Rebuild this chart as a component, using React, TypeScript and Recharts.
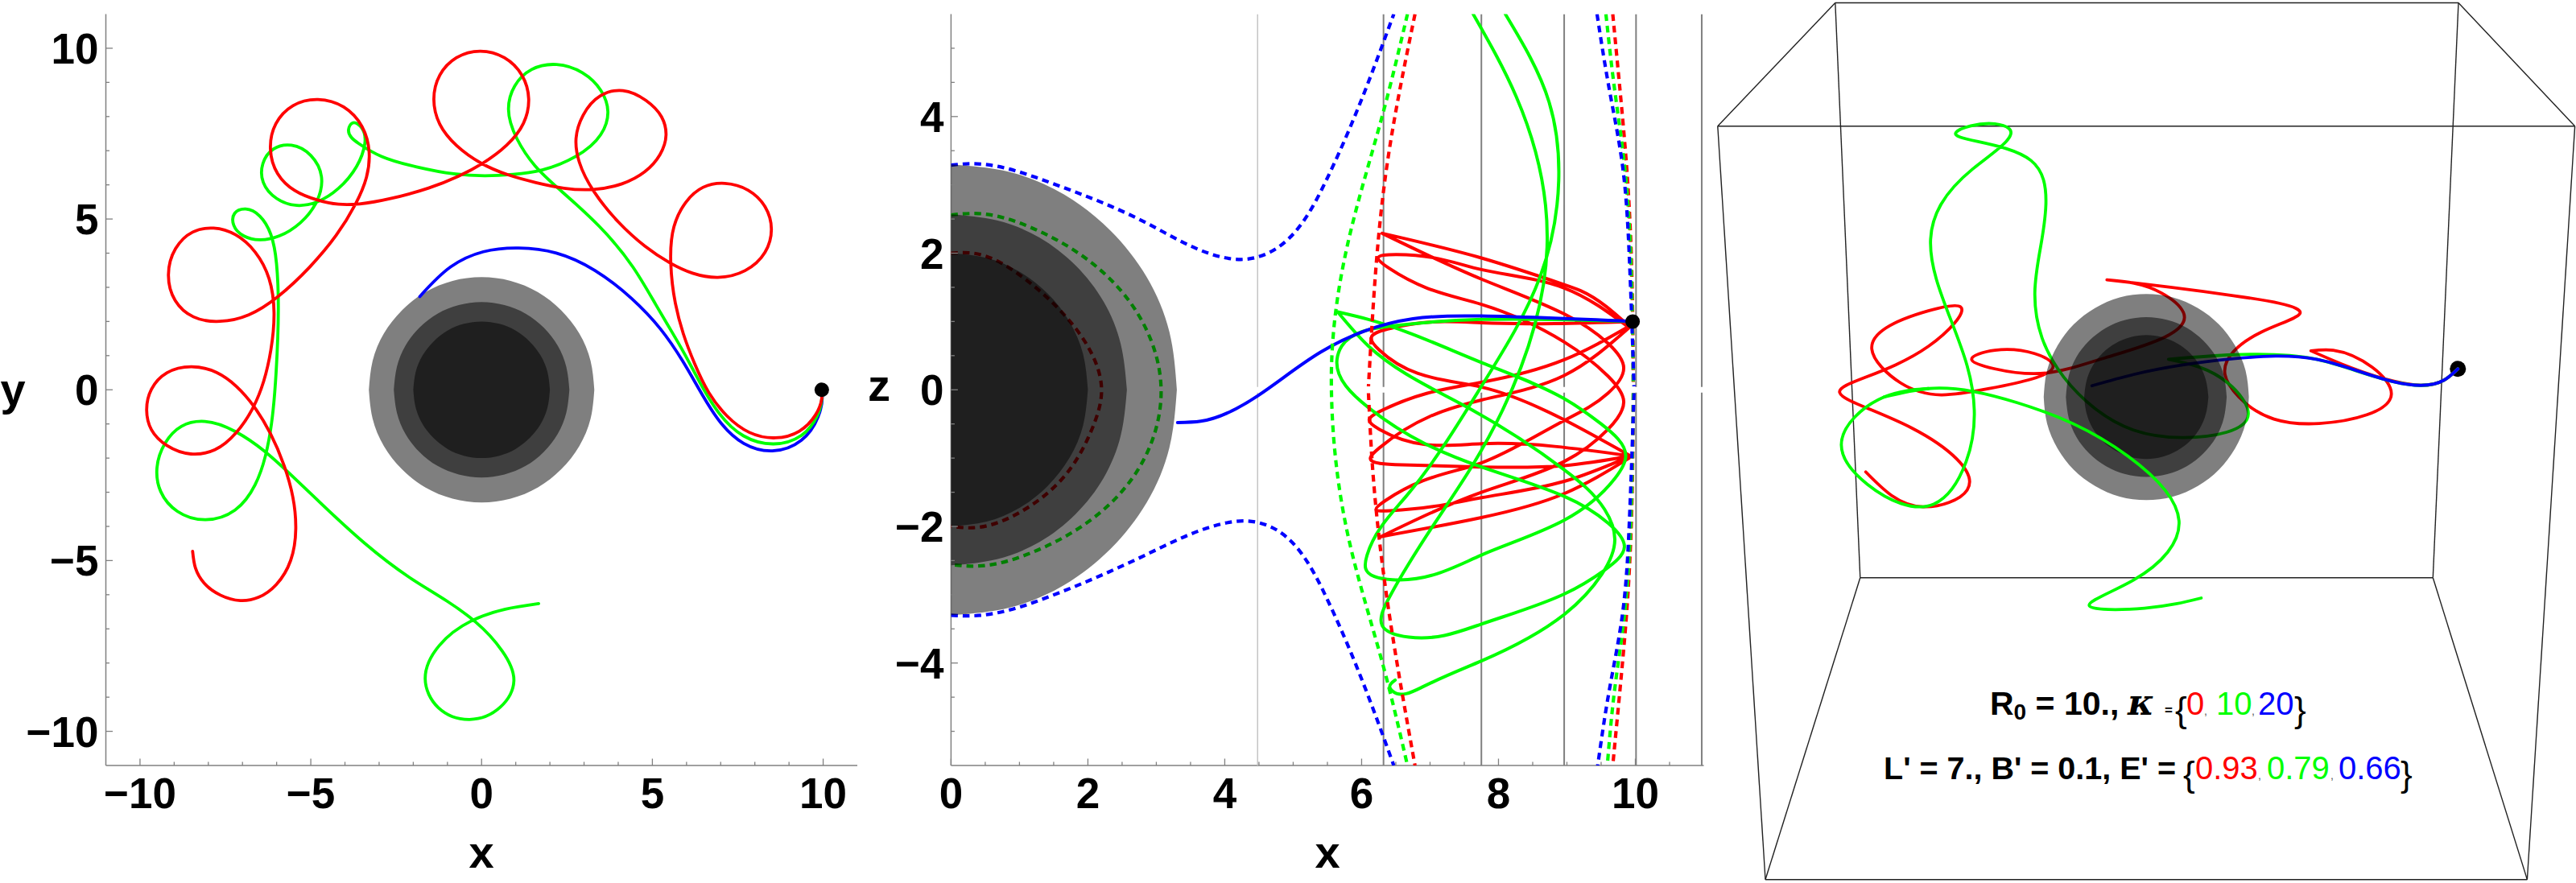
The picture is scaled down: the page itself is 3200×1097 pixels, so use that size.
import React from "react";
import { ComposedChart, Line, Area, XAxis, YAxis } from "recharts";

type Pt = [number, number | null];
const G: Pt = [0, null];
const RED = "#ff0000";
const GREEN = "#00ff00";
const BLUE = "#0000ff";

// ---------- panel 1 (x, y) ----------
const xyRed: Pt[] = [[9.96,0],[9.96,-0.21],[9.78,-0.76],[9.31,-1.20],[8.60,-1.42],[7.82,-1.24],[7.19,-0.76],[6.64,-0.06],[6.25,0.73],[5.89,1.75],[5.70,2.38],[5.53,3.79],[5.62,4.74],[6.01,5.52],[6.48,5.91],[7.11,6.05],[7.82,5.84],[8.29,5.36],[8.49,4.70],[8.29,4.03],[7.74,3.48],[6.88,3.28],[6.17,3.44],[5.53,3.71],[4.76,4.22],[4.05,4.89],[3.26,5.80],[2.87,6.70],[2.78,7.33],[2.95,8.03],[3.50,8.62],[4.11,8.77],[4.83,8.47],[5.27,7.96],[5.39,7.49],[5.23,6.86],[4.75,6.39],[4.13,6.03],[3.26,5.86],[2.40,5.91],[1.61,6.07],[0.75,6.31],[0,6.62],[-0.74,7.17],[-1.22,7.76],[-1.40,8.51],[-1.22,9.21],[-0.74,9.72],[-0.04,9.92],[0.67,9.72],[1.18,9.21],[1.38,8.51],[1.22,7.80],[0.75,7.17],[0,6.62],[-0.67,6.27],[-1.53,5.91],[-2.63,5.60],[-3.65,5.44],[-4.12,5.44],[-4.83,5.56],[-5.46,5.84],[-5.97,6.31],[-6.19,7.05],[-6.01,7.80],[-5.54,8.31],[-4.78,8.51],[-4.04,8.27],[-3.49,7.72],[-3.30,6.93],[-3.38,6.23],[-3.69,5.44],[-4.28,4.50],[-4.99,3.64],[-6.01,2.69],[-6.79,2.22],[-7.66,2.0],[-8.44,2.14],[-8.96,2.61],[-9.18,3.36],[-8.96,4.15],[-8.44,4.62],[-7.86,4.72],[-7.19,4.54],[-6.64,4.03],[-6.21,3.24],[-6.08,2.30],[-6.17,1.12],[-6.40,0.26],[-6.67,-0.49],[-7.19,-1.27],[-7.82,-1.75],[-8.48,-1.89],[-9.23,-1.63],[-9.66,-1.16],[-9.80,-0.61],[-9.66,0.02],[-9.23,0.49],[-8.48,0.69],[-7.74,0.49],[-7.19,0.10],[-6.67,-0.49],[-6.20,-1.24],[-5.77,-2.26],[-5.54,-3.12],[-5.44,-4.06],[-5.58,-5.0],[-6.01,-5.71],[-6.56,-6.07],[-7.03,-6.16],[-7.66,-6.03],[-8.13,-5.63],[-8.38,-5.24],[-8.46,-4.73]];
const xyGreen: Pt[] = [[9.96,0],[9.96,-0.21],[9.82,-0.76],[9.39,-1.35],[8.53,-1.59],[7.66,-1.35],[6.95,-0.69],[6.40,0.22],[5.93,1.08],[5.54,1.75],[5.15,2.38],[4.36,3.71],[3.58,4.66],[2.16,5.99],[1.69,6.42],[0.98,7.41],[0.80,8.19],[0.98,8.90],[1.45,9.37],[2.20,9.53],[2.95,9.29],[3.50,8.74],[3.68,8.15],[3.50,7.48],[2.79,6.82],[1.69,6.42],[0.98,6.33],[0.04,6.27],[-0.75,6.31],[-1.92,6.54],[-2.94,6.82],[-3.57,7.21],[-3.93,7.60],[-3.77,7.84],[-3.49,7.64],[-3.42,7.21],[-3.65,6.54],[-4.20,5.87],[-4.83,5.52],[-5.38,5.39],[-6.01,5.60],[-6.40,6.07],[-6.40,6.62],[-6.09,7.05],[-5.58,7.17],[-4.99,6.86],[-4.67,6.23],[-4.83,5.52],[-5.30,4.89],[-5.93,4.50],[-6.50,4.40],[-6.95,4.50],[-7.27,4.81],[-7.23,5.17],[-6.91,5.31],[-6.48,5.05],[-6.17,4.58],[-6.01,3.64],[-5.95,2.46],[-6.01,0.49],[-6.17,-1.08],[-6.32,-1.82],[-6.64,-2.81],[-7.19,-3.51],[-8.09,-3.83],[-8.92,-3.55],[-9.39,-2.96],[-9.50,-2.30],[-9.27,-1.55],[-8.76,-1.08],[-8.13,-0.92],[-7.19,-1.20],[-6.32,-1.86],[-5.70,-2.37],[-4.67,-3.36],[-3.42,-4.50],[-2.16,-5.48],[-0.90,-6.26],[-0.31,-6.69],[0.67,-7.72],[0.93,-8.47],[0.58,-9.29],[-0.36,-9.69],[-1.28,-9.29],[-1.66,-8.47],[-1.28,-7.48],[-0.23,-6.74],[0.67,-6.44],[1.67,-6.26]];
const xyBlue: Pt[] = [[9.96,0],[9.96,-0.21],[9.86,-0.76],[9.39,-1.51],[8.49,-1.80],[7.66,-1.55],[7.03,-1.0],[6.48,-0.17],[5.85,0.89],[5.27,1.75],[4.36,2.69],[3.34,3.48],[2.16,4.03],[1.10,4.12],[0.04,4.03],[-0.90,3.64],[-1.81,2.73]];
const startXY: Pt[] = [[9.96,0],[9.96,0]];

// disc outlines: x positions and half heights
const outerX = [-3.30,-3.19,-2.86,-2.33,-1.65,-0.85,0,0.85,1.65,2.33,2.86,3.19,3.30];
const outerH = [0,0.85,1.65,2.33,2.86,3.19,3.30,3.19,2.86,2.33,1.65,0.85,0];
const midX = [-2.57,-2.48,-2.23,-1.82,-1.29,-0.67,0,0.67,1.29,1.82,2.23,2.48,2.57];
const midH = [0,0.67,1.29,1.82,2.23,2.48,2.57,2.48,2.23,1.82,1.29,0.67,0];
const innerX = [-2,-1.93,-1.73,-1.41,-1,-0.52,0,0.52,1,1.41,1.73,1.93,2];
const innerH = [0,0.52,1,1.41,1.73,1.93,2,1.93,1.73,1.41,1,0.52,0];

// ---------- panel 2 (x, z) ----------
const xzVerticalsDark = [6.32, 7.75, 8.96, 10.01, 10.97];
const xzVerticalLight = [4.48];
const xzBlueSolid: Pt[] = [[9.96,1],[7.74,1.08],[6.75,1.04],[5.40,0.55],[4.48,-0.09],[3.65,-0.46],[3.31,-0.48]];
const xzGreenSolid: Pt[] = [[9.96,1],[7.75,1.03],[6.41,0.93],[5.71,0.64],[5.64,0.44],[6.10,-0.26],[7.75,-1.13],[8.96,-1.56],[9.6,-1.95],[9.84,-2.3],[9.55,-2.64],[8.96,-2.99],[7.75,-3.43],[6.69,-3.62],[6.30,-3.45],[6.42,-3.01],[7.63,-1.09],[8.53,0.95],[8.71,2.09],[8.26,4.29],[7.63,5.5],G,
[8.10,5.5],[8.74,4.21],[8.88,3.06],[8.61,1.66],[7.75,0.05],[6.65,-1.56],[6.08,-2.42],[6.06,-2.62],[6.45,-2.78],[7.75,-2.42],[8.96,-1.91],[9.7,-1.3],[9.86,-0.97],[9.5,-0.5],[8.96,-0.13],[7.75,0.40],[6.10,1.03],[5.65,1.14],G,
[5.65,1.14],[6.10,0.64],[7.55,-0.26],[8.96,-1.17],[9.55,-1.75],[9.70,-2.19],[9.51,-2.70],[8.96,-3.29],[7.75,-3.97],[6.89,-4.35],[6.45,-4.41],[6.41,-4.35],[6.49,-4.25]];
const xzRedSolid: Pt[] = [[9.96,1],[7.75,0.98],[6.38,0.89],[6.14,0.76],[6.26,0.58],[7.75,0.04],[8.96,-0.44],[9.93,-0.97],G,
[9.93,-0.97],[7.75,-0.79],[6.26,-0.58],[6.11,-0.44],[6.26,-0.32],[7.75,0.11],[8.96,0.44],[9.91,0.93],G,
[9.91,0.93],[9.2,1.45],[8.96,1.54],[7.75,1.93],[6.30,2.29],G,
[6.30,2.29],[7.75,1.62],[8.96,1.11],[9.6,0.68],[9.83,0.32],[9.6,-0.05],[8.96,-0.45],[7.75,-1.07],[6.35,-1.62],[6.21,-1.75],[6.42,-1.77],[7.75,-1.58],[8.96,-1.34],[9.93,-0.97],G,
[9.93,-0.97],[8.96,-1.11],[7.75,-1.13],[6.6,-1.1],[6.13,-0.99],[6.26,-0.85],[7.75,-0.15],[8.96,0.21],[9.91,0.91],G,
[9.91,0.91],[8.96,1.49],[7.75,1.76],[6.5,1.98],[6.24,1.93],[6.4,1.78],[7.75,1.25],[8.96,0.70],[9.6,0.2],[9.83,-0.17],[9.6,-0.58],[8.96,-1.05],[7.75,-1.5],[6.28,-2.15],G,
[6.28,-2.15],[7.75,-1.87],[8.96,-1.52],[9.91,-1.0]];
const xzBlueDash: Pt[] = [[0,3.29],[0.28,3.31],[1.43,3.04],[2.86,2.44],[3.97,1.94],[4.29,1.91],[4.61,1.99],[5.48,3.06],[6.47,5.5],G,
[9.44,5.5],[9.61,4.45],[9.81,3.30],[9.91,1.99],[9.98,0.05],G,[9.98,-0.05],[9.91,-1.99],[9.81,-3.30],[9.61,-4.45],[9.45,-5.5],G,
[0,-3.30],[0.28,-3.31],[1.43,-3.03],[2.86,-2.41],[3.97,-1.96],[4.29,-1.92],[4.61,-1.98],[5.48,-3.03],[6.47,-5.5]];
const xzGreenDash: Pt[] = [[6.67,5.5],[6.31,4.04],[5.80,2.15],[5.56,0.34],[5.56,-0.07],[5.80,-2.13],[6.31,-4.02],[6.67,-5.5],G,
[9.57,5.5],[9.69,4.45],[9.84,3.30],[9.93,1.99],[9.97,0.05],G,[9.97,-0.05],[9.93,-1.99],[9.84,-3.30],[9.69,-4.45],[9.59,-5.5],G,
[0,2.56],[0.40,2.58],[1.11,2.40],[2.70,1.16],[3.07,0],[2.70,-1.22],[1.11,-2.41],[0.40,-2.58],[0,-2.56]];
const xzRedDash: Pt[] = [[6.78,5.5],[6.35,3.14],[6.16,1.08],[6.10,0.05],G,[6.10,-0.05],[6.16,-1.14],[6.39,-3.19],[6.78,-5.5],G,
[9.67,5.5],[9.77,4.45],[9.87,3.30],[9.94,1.99],[9.97,0.05],G,[9.97,-0.05],[9.94,-1.99],[9.87,-3.30],[9.77,-4.45],[9.67,-5.5],G,
[0,2.0],[0.32,2.0],[1.03,1.66],[1.67,1.08],[2.07,0.5],[2.20,0],[2.07,-0.55],[1.67,-1.25],[1.03,-1.78],[0.32,-2.02],[0,-2.0]];
const startXZ: Pt[] = [[9.96,1],[9.96,1]];

// ---------- panel 3 (projected picture units) ----------
const boxEdges: Pt[][] = [
  [[232,5],[1356,5]],[[232,5],[20,224]],[[1356,5],[1566,224]],[[20,224],[1566,224]],
  [[232,5],[277,1026]],[[1356,5],[1310,1026]],[[277,1026],[1310,1026]],
  [[20,224],[106,1562]],[[1566,224],[1480,1562]],[[277,1026],[106,1562]],[[1310,1026],[1480,1562]],[[106,1562],[1480,1562]],
];
const viewRed: Pt[] = [[1355,655],[1330,675],[1240,677],[1090,623],G,[1090,623],[1130,622],[1235,700],[1105,752],[960,705],[935,665],[1000,590],[1070,557],[950,525],[722,497],G,[722,497],[820,520],[860,555],[720,635],[520,655],[478,638],[520,622],[625,650],[510,690],[350,680],[298,620],[400,552],[458,545],[400,615],[240,697],[370,760],[470,870],[390,900],[287,838]];
const viewGreenBack: Pt[] = [[1355,655],[1330,675],[1240,678],[1100,638],[950,630],[833,638],G,[833,638],[940,680],[977,735],[860,777],[700,725],[605,600],[592,520],[612,360],[585,285],[450,235],[520,220],[545,228],[480,300],[404,425],[470,650],[468,820],[410,895],[290,860],[243,790],[320,705],[400,690]];
const viewGreenFront: Pt[] = [[320,705],[400,690],[560,715],[760,810],[852,925],[770,1030],[690,1075],[790,1080],[892,1062]];
const viewBlue: Pt[] = [[1355,655],[1330,675],[1240,678],[1100,638],[950,637],[770,665],[695,685]];
const startView: Pt[] = [[1355,655],[1355,655]];
const sphereCentreY = 705;
const sphereOuterX = [608,614,633,662,700.5,745,793,841,886,924,953,972,978];
const sphereOuterH = [0,47,91.5,129,158,177,183,177,158,129,91.5,47,0];
const sphereMidX = [648,653,667,690,720.5,755,793,831,866,896,919,933,938];
const sphereMidH = [0,37,71,100,123,137,142,137,123,100,71,37,0];
const sphereInnerX = [681,685,696,714,737,764,793,822,849,872,890,901,905];
const sphereInnerH = [0,28,55,78,95,106,110,106,95,78,55,28,0];

// ---------- ticks and labels ----------
const xyTicks = [-10,-9,-8,-7,-6,-5,-4,-3,-2,-1,0,1,2,3,4,5,6,7,8,9,10];
const xyMajor = [-10,-5,0,5,10];
const xTicks2 = [0,0.5,1,1.5,2,2.5,3,3.5,4,4.5,5,5.5,6,6.5,7,7.5,8,8.5,9,9.5,10,10.5];
const xMajor2 = [0,2,4,6,8,10];
const zTicks2 = [-5,-4.5,-4,-3.5,-3,-2.5,-2,-1.5,-1,-0.5,0,0.5,1,1.5,2,2.5,3,3.5,4,4.5,5];
const zMajor2 = [-4,-2,0,2,4];
const kappaValues = ["0", "10", "20"];
const energyValues = ["0.93", "0.79", "0.66"];

const rows = (a: Pt[]) => a.map(([x, y]) => ({ x, y }));
const band = (xs: number[], hs: number[], c = 0) => xs.map((x, i) => ({ x, r: [c - hs[i], c + hs[i]] }));
const half = (xs: number[], hs: number[]) => band(xs.slice(6), hs.slice(6));

// Removes reading noise from densely read curves without shrinking them (one Taubin pass).
const taubin = (v: number[]) => {
  const step = (a: number[], k: number) => a.map((p, i) => (i === 0 || i === a.length - 1 ? p : p + k * ((a[i - 1] + a[i + 1]) / 2 - p)));
  return step(step(v, 0.5), -0.53);
};

// Interpolating C2 cubic spline parameterised by chord length, for the trajectory curves.
const makeSpline = (smooth: boolean) => (context: any) => {
  let px: number[] = [];
  let py: number[] = [];
  const slopes = (v: number[], h: number[]) => {
    const n = v.length;
    const a = new Array(n).fill(0), b = new Array(n).fill(0), c = new Array(n).fill(0), r = new Array(n).fill(0);
    const d = h.map((hi, i) => (v[i + 1] - v[i]) / hi);
    b[0] = 2; c[0] = 1; r[0] = 3 * d[0];
    for (let i = 1; i < n - 1; i++) {
      a[i] = h[i]; b[i] = 2 * (h[i - 1] + h[i]); c[i] = h[i - 1];
      r[i] = 3 * (h[i] * d[i - 1] + h[i - 1] * d[i]);
    }
    a[n - 1] = 1; b[n - 1] = 2; r[n - 1] = 3 * d[n - 2];
    for (let i = 1; i < n; i++) {
      const m = a[i] / b[i - 1];
      b[i] -= m * c[i - 1]; r[i] -= m * r[i - 1];
    }
    const out = new Array(n).fill(0);
    out[n - 1] = r[n - 1] / b[n - 1];
    for (let i = n - 2; i >= 0; i--) out[i] = (r[i] - c[i] * out[i + 1]) / b[i];
    return out;
  };
  return {
    areaStart() {},
    areaEnd() {},
    lineStart() { px = []; py = []; },
    point(x: number, y: number) { px.push(+x); py.push(+y); },
    lineEnd() {
      const n = px.length;
      if (!n) return;
      if (smooth && n > 4) { px = taubin(px); py = taubin(py); }
      context.moveTo(px[0], py[0]);
      if (n === 1) { context.lineTo(px[0], py[0]); return; }
      const h: number[] = [];
      for (let i = 0; i < n - 1; i++) h.push(Math.max(Math.hypot(px[i + 1] - px[i], py[i + 1] - py[i]), 1e-3));
      const mx = slopes(px, h), my = slopes(py, h);
      for (let i = 0; i < n - 1; i++) {
        context.bezierCurveTo(px[i] + mx[i] * h[i] / 3, py[i] + my[i] * h[i] / 3, px[i + 1] - mx[i + 1] * h[i] / 3, py[i + 1] - my[i + 1] * h[i] / 3, px[i + 1], py[i + 1]);
      }
    },
  };
};
const chordSpline = makeSpline(false);
const smoothSpline = makeSpline(true);

const AXIS = "#808080";
const FONT = "'Liberation Sans', Arial, sans-serif";
const axisLine = { stroke: AXIS, strokeWidth: 1.5 };

const makeTick = (side: string, majors: number[], labelled: boolean) => (p: any) => {
  const v = p.payload.value;
  const major = majors.includes(v);
  const len = major ? 8.5 : 4.5;
  const x = p.x, y = p.y;
  const line = side === "bottom" ? [x, y, x, y - len] : side === "top" ? [x, y, x, y + len] : side === "left" ? [x, y, x + len, y] : [x, y, x - len, y];
  const label = String(v).replace("-", "\u2212");
  return (
    <g>
      <line x1={line[0]} y1={line[1]} x2={line[2]} y2={line[3]} stroke={AXIS} strokeWidth={1.3} />
      {labelled && major && side === "bottom" && (
        <text x={x} y={y + 53} textAnchor="middle" fontFamily={FONT} fontWeight="bold" fontSize={53} fill="#000">{label}</text>
      )}
      {labelled && major && side === "left" && (
        <text x={x - 9} y={y + 19} textAnchor="end" fontFamily={FONT} fontWeight="bold" fontSize={53} fill="#000">{label}</text>
      )}
    </g>
  );
};

const frame = (xD: number[], yD: number[], xT: number[], yT: number[], xM: number[], yM: number[], leftW: number, bottomH: number) => [
  <XAxis key="xb" dataKey="x" type="number" domain={xD} allowDataOverflow ticks={xT} interval={0} height={bottomH} tickSize={0} tickMargin={0} tickLine={false} axisLine={axisLine} tick={makeTick("bottom", xM, true)} />,
  <XAxis key="xt" xAxisId="top" orientation="top" dataKey="x" type="number" domain={xD} allowDataOverflow ticks={xT} interval={0} height={0} tickSize={0} tickMargin={0} tickLine={false} axisLine={axisLine} tick={makeTick("top", xM, false)} />,
  <YAxis key="yl" type="number" domain={yD} allowDataOverflow ticks={yT} interval={0} width={leftW} tickSize={0} tickMargin={0} tickLine={false} axisLine={axisLine} tick={makeTick("left", yM, true)} />,
  <YAxis key="yr" yAxisId="right" orientation="right" type="number" domain={yD} allowDataOverflow ticks={yT} interval={0} width={0} tickSize={0} tickMargin={0} tickLine={false} axisLine={axisLine} tick={makeTick("right", yM, false)} />,
];

let zCounter = 1000;
const curve = (key: string, pts: Pt[], color: string, extra: any = {}) => (
  <Line key={key} data={rows(pts)} dataKey="y" type={chordSpline as any} stroke={color} strokeWidth={4} strokeLinecap="round" strokeLinejoin="round" dot={false} activeDot={false} isAnimationActive={false} legendType="none" connectNulls={false} zIndex={zCounter++} {...extra} />
);
const disc = (key: string, data: any[]) => (
  <Area key={key} data={data} dataKey="r" type="natural" stroke="none" fill="#000" fillOpacity={0.5} dot={false} activeDot={false} isAnimationActive={false} legendType="none" zIndex={zCounter++} />
);
const startDot = (key: string, pts: Pt[], d: number) => curve(key, pts, "#000", { strokeWidth: d, type: "linear" });
const dashed = { strokeDasharray: "8.5 6", strokeLinecap: "butt", strokeWidth: 4.2 };
const vertical = (x: number): Pt[] => [[x, 5.5], [x, 0.04], G, [x, -0.04], [x, -5.5]];

const T = (p: any) => <text fontFamily={FONT} {...p} />;

export default function App() {
  return (
    <div style={{ position: "absolute", left: 0, top: 0, width: 3200, height: 1097, background: "#fff", overflow: "hidden" }}>
      <div style={{ position: "absolute", left: 0, top: 0 }}>
        <ComposedChart width={1080} height={1097} margin={{ top: 17.5, right: 15, bottom: 0, left: 0 }}>
          {frame([-11, 11], [-11, 11], xyTicks, xyTicks, xyMajor, xyMajor, 131.5, 146)}
          {disc("d1", band(outerX, outerH))}
          {disc("d2", band(midX, midH))}
          {disc("d3", band(innerX, innerH))}
          {curve("blue", xyBlue, BLUE, { type: smoothSpline, strokeWidth: 3.8 })}
          {curve("green", xyGreen, GREEN, { type: smoothSpline, strokeWidth: 3.8 })}
          {curve("red", xyRed, RED, { type: smoothSpline, strokeWidth: 3.8 })}
          {startDot("dot", startXY, 18)}
        </ComposedChart>
      </div>

      <div style={{ position: "absolute", left: 1080, top: 0 }}>
        <ComposedChart width={1060} height={1097} margin={{ top: 17.5, right: 23.5, bottom: 0, left: 0 }}>
          {frame([0, 11], [-5.5, 5.5], xTicks2, zTicks2, xMajor2, zMajor2, 101.4, 146)}
          {xzVerticalLight.map((x, i) => curve("vl" + i, vertical(x), "#c4c4c4", { strokeWidth: 1.5, type: "linear", strokeLinecap: "butt" }))}
          {xzVerticalsDark.map((x, i) => curve("vd" + i, vertical(x), "#808080", { strokeWidth: 2, type: "linear", strokeLinecap: "butt" }))}
          {curve("rs", xzRedSolid, RED)}
          {curve("gs", xzGreenSolid, GREEN)}
          {curve("bs", xzBlueSolid, BLUE)}
          {curve("rd", xzRedDash, RED, dashed)}
          {curve("gd", xzGreenDash, GREEN, dashed)}
          {curve("bd", xzBlueDash, BLUE, dashed)}
          {disc("d1", half(outerX, outerH))}
          {disc("d2", half(midX, midH))}
          {disc("d3", half(innerX, innerH))}
          {startDot("dot", startXZ, 18)}
        </ComposedChart>
      </div>

      <div style={{ position: "absolute", left: 2120, top: 0 }}>
        <ComposedChart width={1080} height={1097} margin={{ top: 0, right: 0, bottom: 0, left: 0 }}>
          <XAxis dataKey="x" type="number" domain={[0, 1568]} hide />
          <YAxis type="number" domain={[0, 1568]} reversed hide />
          {boxEdges.map((e, i) => curve("box" + i, e, "#222", { type: "linear", strokeWidth: 1.4, strokeLinecap: "butt" }))}
          {startDot("dot", startView, 20)}
          {curve("red", viewRed, RED, { strokeWidth: 3.8 })}
          {curve("gb", viewGreenBack, GREEN, { strokeWidth: 3.8 })}
          {curve("blue", viewBlue, BLUE, { strokeWidth: 3.8 })}
          {disc("s1", band(sphereOuterX, sphereOuterH, sphereCentreY))}
          {disc("s2", band(sphereMidX, sphereMidH, sphereCentreY))}
          {disc("s3", band(sphereInnerX, sphereInnerH, sphereCentreY))}
          {curve("gf", viewGreenFront, GREEN, { strokeWidth: 3.8 })}
        </ComposedChart>
      </div>

      <svg width={3200} height={1097} style={{ position: "absolute", left: 0, top: 0, pointerEvents: "none" }}>
        <T x={598} y={1078} textAnchor="middle" fontWeight="bold" fontSize={56}>x</T>
        <T x={16} y={503} textAnchor="middle" fontWeight="bold" fontSize={56}>y</T>
        <T x={1649} y={1078} textAnchor="middle" fontWeight="bold" fontSize={56}>x</T>
        <T x={1092} y={498} textAnchor="middle" fontWeight="bold" fontSize={56}>z</T>

        <T x={2472} y={888} fontWeight="bold" fontSize={41}>R<tspan fontSize={28} dy={6}>0</tspan><tspan dy={-6}> = 10.,</tspan></T>
        <text x={2643} y={888} fontFamily="'DejaVu Serif', serif" fontWeight="bold" fontStyle="italic" fontSize={44}>κ</text>
        <T x={2689} y={888} fontWeight="bold" fontSize={17}>=</T>
        <T x={2702} y={897} fontSize={44}>{"{"}</T>
        <T x={2716} y={888} fontSize={40} fill={RED}>{kappaValues[0]}</T>
        <T x={2738} y={888} fontSize={14} fill="#555">,</T>
        <T x={2753} y={888} fontSize={40} fill={GREEN}>{kappaValues[1]}</T>
        <T x={2797} y={888} fontSize={14} fill="#555">,</T>
        <T x={2805} y={888} fontSize={40} fill={BLUE}>{kappaValues[2]}</T>
        <T x={2850} y={897} fontSize={44}>{"}"}</T>

        <T x={2340} y={968} fontWeight="bold" fontSize={39.5}>{"L' = 7., B' = 0.1, E' ="}</T>
        <T x={2712} y={977} fontSize={44}>{"{"}</T>
        <T x={2727} y={968} fontSize={40} fill={RED}>{energyValues[0]}</T>
        <T x={2805} y={968} fontSize={14} fill="#555">,</T>
        <T x={2816} y={968} fontSize={40} fill={GREEN}>{energyValues[1]}</T>
        <T x={2895} y={968} fontSize={14} fill="#555">,</T>
        <T x={2905} y={968} fontSize={40} fill={BLUE}>{energyValues[2]}</T>
        <T x={2982} y={977} fontSize={44}>{"}"}</T>
      </svg>
    </div>
  );
}
